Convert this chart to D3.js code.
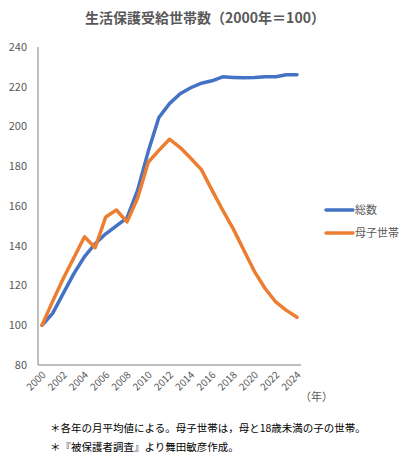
<!DOCTYPE html>
<html>
<head>
<meta charset="utf-8">
<script src="https://cdn.jsdelivr.net/npm/d3@7"></script>
<style>
  body { margin: 0; background: #fff; }
  svg { display: block; font-family: "Noto Sans CJK JP", "Noto Sans", sans-serif; }
</style>
</head>
<body>
<svg id="chart" width="410" height="461"></svg>
<script>
// 年ごとの値（2000年＝100）
const years = d3.range(2000, 2025);
const totalValues = [100, 106, 116, 126, 134.5, 141, 146, 150, 154, 168, 187.5, 204.5, 211.5, 216.5, 219.5, 221.8, 223, 225, 224.7, 224.5, 224.6, 225, 225, 226, 226];
const singleMotherValues = [100, 112, 123.5, 134, 144.5, 139, 154.5, 158, 152, 164, 182, 188, 193.6, 189.4, 184, 178.3, 168, 158, 148.5, 137.7, 127, 118.5, 111.7, 107.5, 104];
const yTicks = [80, 100, 120, 140, 160, 180, 200, 220, 240];
const xTicks = d3.range(2000, 2025, 2);

const series = [
  { name: "総数", values: totalValues, color: "#4472C4" },
  { name: "母子世帯", values: singleMotherValues, color: "#ED7D31" }
];

const svg = d3.select("#chart");
const textColor = "#595959";

// scales
const x = d3.scaleLinear().domain([2000, 2024]).range([42, 297]);
const y = d3.scaleLinear().domain([80, 240]).range([365, 47]);

// title
svg.append("text")
  .attr("x", 205).attr("y", 23)
  .attr("text-anchor", "middle")
  .style("font-size", "14px")
  .style("font-weight", "bold")
  .style("fill", textColor)
  .text("生活保護受給世帯数（2000年＝100）");

// y axis
svg.append("line")
  .attr("x1", 38).attr("x2", 38)
  .attr("y1", y(240)).attr("y2", y(80))
  .style("stroke", "#7f7f7f").style("stroke-width", 1);

svg.selectAll(".ylabel")
  .data(yTicks)
  .join("text")
  .attr("class", "ylabel")
  .attr("x", 27)
  .attr("y", d => y(d))
  .attr("dy", "0.35em")
  .attr("text-anchor", "end")
  .style("font-size", "11px")
  .style("fill", textColor)
  .text(d => d);

// x axis
svg.append("line")
  .attr("x1", 38).attr("x2", 301)
  .attr("y1", y(80)).attr("y2", y(80))
  .style("stroke", "#7f7f7f").style("stroke-width", 1);

svg.selectAll(".xlabel")
  .data(xTicks)
  .join("text")
  .attr("class", "xlabel")
  .attr("transform", d => `translate(${x(d) + 2},${y(80) + 8}) rotate(-45)`)
  .attr("text-anchor", "end")
  .attr("dy", "0.35em")
  .style("font-size", "10px")
  .style("fill", textColor)
  .text(d => d);

svg.append("text")
  .attr("x", 300).attr("y", 401)
  .style("font-size", "11px")
  .style("fill", textColor)
  .text("（年）");

// lines
const line = d3.line()
  .x((d, i) => x(years[i]))
  .y(d => y(d));

svg.selectAll(".series")
  .data(series)
  .join("path")
  .attr("class", "series")
  .attr("d", d => line(d.values))
  .style("fill", "none")
  .style("stroke", d => d.color)
  .style("stroke-width", 3.5)
  .style("stroke-linejoin", "round")
  .style("stroke-linecap", "round");

// legend
const legend = svg.selectAll(".legend")
  .data(series)
  .join("g")
  .attr("class", "legend")
  .attr("transform", (d, i) => `translate(326,${210 + i * 23})`);

legend.append("line")
  .attr("x1", 0).attr("x2", 27)
  .style("stroke", d => d.color)
  .style("stroke-width", 3.5)
  .style("stroke-linecap", "round");

legend.append("text")
  .attr("x", 29)
  .attr("dy", "0.35em")
  .style("font-size", "11px")
  .style("fill", textColor)
  .text(d => d.name);

// notes
const notes = [
  "＊各年の月平均値による。母子世帯は，母と18歳未満の子の世帯。",
  "＊『被保護者調査』より舞田敏彦作成。"
];
svg.selectAll(".note")
  .data(notes)
  .join("text")
  .attr("class", "note")
  .attr("x", 50)
  .attr("y", (d, i) => 432 + i * 19)
  .style("font-size", "10.5px")
  .style("fill", "#000")
  .text(d => d);
</script>
</body>
</html>
